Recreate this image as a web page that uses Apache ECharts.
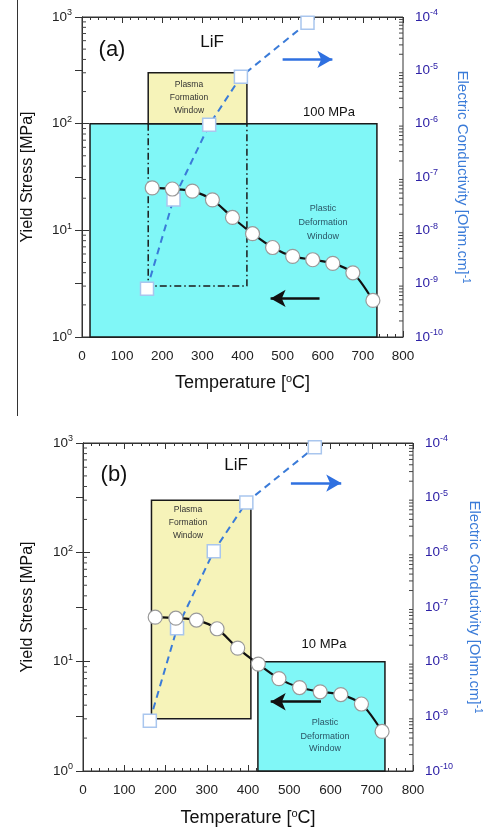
<!DOCTYPE html>
<html>
<head>
<meta charset="utf-8">
<script src="https://cdn.jsdelivr.net/npm/echarts@6/dist/echarts.min.js"></script>
<style>
html, body { margin: 0; padding: 0; background: #fff; }
#chart { width: 491px; height: 830px; }
</style>
</head>
<body>
<div id="chart"></div>
<script>
// yield stress curve (circles), temperature in oC, stress in MPa
var tempStress = [175, 225, 275, 325, 375, 425, 475, 525, 575, 625, 675, 725];
var stressA = [25, 24.4, 23.3, 19.3, 13.2, 9.3, 6.9, 5.7, 5.3, 4.9, 4.0, 2.2];
var stressB = [25.5, 25, 24, 20, 13.3, 9.5, 7.0, 5.8, 5.3, 5.0, 4.1, 2.3];
// electric conductivity (squares), [Ohm.cm]^-1
var tempCond = [162, 228, 317, 396, 562];
var condA = [8e-10, 3.8e-8, 9.5e-7, 7.6e-6, 7.8e-5];
var condB = [8.3e-10, 4.1e-8, 1.05e-6, 8.2e-6, 8.4e-5];
// windows: [Tmin, Tmax, stressMin, stressMax]
var plasticA = [20, 735, 1, 100];
var plasmaA = [165, 411, 100, 300];
var plasmaOutlineA = [[165, 100], [165, 3], [411, 3], [411, 100]];
var plasticB = [424, 732, 1, 10];
var plasmaB = [166, 407, 3, 300];
// direction arrows: [[T0, y0], [T1, y1]] (blue on conductivity scale, black on stress scale)
var blueArrowA = [[500, 1.6e-5], [624, 1.6e-5]];
var blackArrowA = [[592, 2.3], [470, 2.3]];
var blueArrowB = [[504, 1.85e-5], [626, 1.85e-5]];
var blackArrowB = [[577, 4.3], [455, 4.3]];

var FONT = '"Liberation Sans", Arial, sans-serif';
var CYAN = '#80f7f7';
var YELLOW = '#f6f3b9';
var BLUE = '#3a7bd8';
var ARROW_BLUE = '#2f70e0';
var RIGHT_LBL = '#2d20a6';

function minorList(lo, hi) {
    var a = [];
    for (var e = lo; e < hi; e++) {
        for (var m = 2; m <= 9; m++) a.push(m * Math.pow(10, e));
    }
    return a;
}

function powLabel(v) {
    return '10{sup|' + Math.round(Math.log10(v)) + '}';
}

var supRich = {
    sup: { fontSize: 9, fontFamily: FONT, verticalAlign: 'bottom', padding: [0, 0, 8, 0] }
};

function rectItem(params, api) {
    var p0 = api.coord([api.value(0), api.value(3)]);
    var p1 = api.coord([api.value(1), api.value(2)]);
    return {
        type: 'rect',
        shape: { x: p0[0], y: p0[1], width: p1[0] - p0[0], height: p1[1] - p0[1] },
        style: { fill: api.visual('color'), stroke: '#1a1a1a', lineWidth: 1.5 }
    };
}

function leftTick(params, api) {
    var p = api.coord([api.value(0), api.value(1)]);
    return { type: 'line', shape: { x1: p[0], y1: p[1], x2: p[0] + 4, y2: p[1] }, style: { stroke: '#444', lineWidth: 1 } };
}
function rightTick(params, api) {
    var p = api.coord([api.value(0), api.value(1)]);
    return { type: 'line', shape: { x1: p[0], y1: p[1], x2: p[0] - 4, y2: p[1] }, style: { stroke: '#444', lineWidth: 1 } };
}

function xAxes(g, nameGap) {
    var base = {
        gridIndex: g, type: 'value', min: 0, max: 800, interval: 100,
        axisLine: { lineStyle: { color: '#333', width: 1 } },
        axisTick: { inside: true, length: 6, lineStyle: { color: '#333' } },
        minorTick: { show: true, splitNumber: 5, length: 3, lineStyle: { color: '#333' } },
        splitLine: { show: false }
    };
    var bottom = Object.assign({}, base, {
        position: 'bottom',
        axisLabel: { fontSize: 13.5, color: '#222', fontFamily: FONT, margin: 12 },
        name: 'Temperature [{sup|o}C]', nameLocation: 'middle', nameGap: nameGap,
        nameTextStyle: { fontSize: 18, color: '#111', fontFamily: FONT,
            rich: { sup: { fontSize: 11, fontFamily: FONT, verticalAlign: 'bottom', padding: [0, 0, 10, 0], color: '#111' } } }
    });
    var top = Object.assign({}, base, { position: 'top', axisLabel: { show: false } });
    return [bottom, top];
}

function yAxes(g, leftGap, rightGap) {
    return [{
        gridIndex: g, type: 'log', logBase: 10, min: 1, max: 1000, interval: 1, position: 'left',
        axisLine: { lineStyle: { color: '#333' } },
        axisTick: { inside: true, length: 7, lineStyle: { color: '#333' } },
        splitLine: { show: false },
        axisLabel: { formatter: powLabel, fontSize: 13.5, color: '#222', fontFamily: FONT, margin: 10, rich: supRich },
        name: 'Yield Stress [MPa]', nameLocation: 'middle', nameGap: leftGap,
        nameTextStyle: { fontSize: 16, color: '#111', fontFamily: FONT }
    }, {
        gridIndex: g, type: 'log', logBase: 10, min: 1e-10, max: 1e-4, interval: 1, position: 'right',
        axisLine: { lineStyle: { color: '#333' } },
        axisTick: { inside: true, length: 7, lineStyle: { color: '#333' } },
        splitLine: { show: false },
        axisLabel: { formatter: powLabel, fontSize: 13.5, color: RIGHT_LBL, fontFamily: FONT, margin: 12,
            rich: { sup: { fontSize: 9, fontFamily: FONT, color: RIGHT_LBL, verticalAlign: 'bottom', padding: [0, 0, 8, 0] } } },
        name: 'Electric Conductivity [Ohm.cm]{sup|-1}', nameLocation: 'middle', nameGap: rightGap, nameRotate: -90,
        nameTextStyle: { fontSize: 15, color: BLUE, fontFamily: FONT,
            rich: { sup: { fontSize: 10, color: BLUE, fontFamily: FONT, verticalAlign: 'bottom', padding: [0, 0, 8, 0] } } }
    }];
}

function zip(xs, ys) {
    return xs.map(function (x, i) { return [x, ys[i]]; });
}

function arrowLine(pts, color) {
    return {
        silent: true, symbol: ['none', 'arrow'], symbolSize: [13, 15], animation: false,
        label: { show: false },
        lineStyle: { color: color, width: 2.6, type: 'solid' },
        itemStyle: { color: color },
        data: [[{ coord: pts[0] }, { coord: pts[1] }]]
    };
}

function panelSeries(g, rects, outline, stress, cond, blueArrow, blackArrow) {
    var xi = g * 2, yl = g * 2, yr = g * 2 + 1;
    var s = [];
    rects.forEach(function (r) {
        s.push({
            type: 'custom', xAxisIndex: xi, yAxisIndex: yl, renderItem: rectItem, clip: false, z: 1,
            itemStyle: { color: r.color }, encode: { x: [0, 1], y: [2, 3] }, data: [r.box], silent: true
        });
    });
    if (outline) {
        s.push({
            type: 'line', xAxisIndex: xi, yAxisIndex: yl, data: outline, symbol: 'none', z: 2, silent: true,
            lineStyle: { color: '#1a1a1a', width: 1.5, type: [7, 3, 1.5, 3] }
        });
    }
    s.push({
        type: 'line', xAxisIndex: xi, yAxisIndex: yr, data: zip(tempCond, cond), z: 3,
        symbol: 'rect', symbolSize: 13,
        lineStyle: { color: BLUE, width: 2, type: [7, 5] },
        itemStyle: { color: '#fff', borderColor: '#a9c6ee', borderWidth: 1.5 },
        markLine: arrowLine(blueArrow, ARROW_BLUE)
    });
    s.push({
        type: 'line', xAxisIndex: xi, yAxisIndex: yl, data: zip(tempStress, stress), z: 4,
        smooth: 0.3, symbol: 'circle', symbolSize: 14,
        lineStyle: { color: '#111', width: 2.2 },
        itemStyle: { color: '#fff', borderColor: '#9a9a9a', borderWidth: 1.2 },
        markLine: arrowLine(blackArrow, '#111')
    });
    s.push({
        type: 'custom', xAxisIndex: xi, yAxisIndex: yl, renderItem: leftTick, clip: false, z: 5, silent: true,
        encode: { x: 0, y: 1 },
        data: minorList(0, 3).map(function (v) { return [0, v]; })
    });
    s.push({
        type: 'custom', xAxisIndex: xi, yAxisIndex: yr, renderItem: rightTick, clip: false, z: 5, silent: true,
        encode: { x: 0, y: 1 },
        data: minorList(-10, -4).map(function (v) { return [800, v]; })
    });
    return s;
}

function txt(x, y, text, size, color, weight) {
    return {
        type: 'text', x: x, y: y, silent: true, z: 50,
        style: { text: text, fontSize: size, fill: color || '#111', fontFamily: FONT,
            align: 'center', verticalAlign: 'middle', fontWeight: weight || 'normal' }
    };
}

var chart = echarts.init(document.getElementById('chart'), null, { renderer: 'canvas' });

var option = {
    animation: false,
    backgroundColor: '#fff',
    grid: [
        { left: 82, top: 17, width: 321, height: 320, show: true, borderColor: '#333', borderWidth: 1, backgroundColor: 'transparent' },
        { left: 83, top: 443, width: 332, height: 328, show: true, borderColor: '#333', borderWidth: 1, backgroundColor: 'transparent' }
    ],
    xAxis: xAxes(0, 36).concat(xAxes(1, 37)),
    yAxis: yAxes(0, 46, 50).concat(yAxes(1, 47, 52)),
    series: panelSeries(0,
        [{ box: plasticA, color: CYAN }, { box: plasmaA, color: YELLOW }],
        plasmaOutlineA, stressA, condA, blueArrowA, blackArrowA
    ).concat(panelSeries(1,
        [{ box: plasmaB, color: YELLOW }, { box: plasticB, color: CYAN }],
        null, stressB, condB, blueArrowB, blackArrowB
    )),
    graphic: [
        { type: 'line', silent: true, shape: { x1: 17.5, y1: 0, x2: 17.5, y2: 416 }, style: { stroke: '#333', lineWidth: 1 } },
        // panel (a)
        txt(112, 50, '(a)', 22),
        txt(212, 42, 'LiF', 17),
        txt(329, 112, '100 MPa', 13),
        txt(189, 85, 'Plasma', 8.5, '#333'),
        txt(189, 98, 'Formation', 8.5, '#333'),
        txt(189, 111, 'Window', 8.5, '#333'),
        txt(323, 209, 'Plastic', 9, '#2b5566'),
        txt(323, 223, 'Deformation', 9, '#2b5566'),
        txt(323, 237, 'Window', 9, '#2b5566'),
        // panel (b)
        txt(114, 475, '(b)', 22),
        txt(236, 465, 'LiF', 17),
        txt(324, 644, '10 MPa', 13),
        txt(188, 510, 'Plasma', 8.5, '#333'),
        txt(188, 523, 'Formation', 8.5, '#333'),
        txt(188, 536, 'Window', 8.5, '#333'),
        txt(325, 723, 'Plastic', 9, '#2b5566'),
        txt(325, 737, 'Deformation', 9, '#2b5566'),
        txt(325, 749, 'Window', 9, '#2b5566')
    ]
};

chart.setOption(option);
</script>
</body>
</html>
